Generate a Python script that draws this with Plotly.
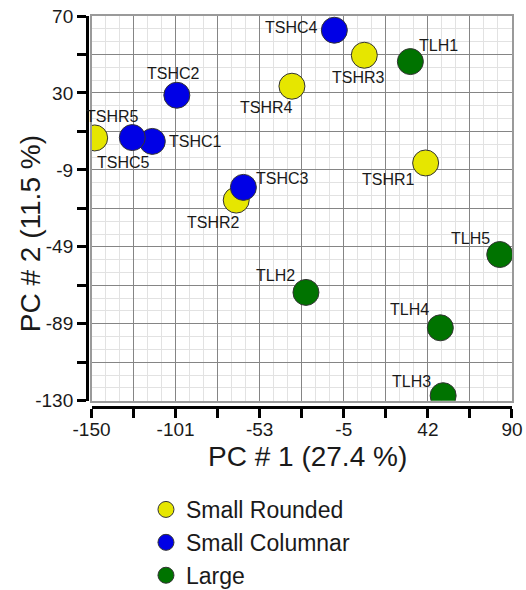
import plotly.graph_objects as go

# ---- data ----
rounded_names = ["TSHR1", "TSHR2", "TSHR3", "TSHR4", "TSHR5"]
rounded_x = [40.7, -67.4, 5.7, -35.6, -148.2]
rounded_y = [-6.4, -25.7, 49.6, 33.5, 6.6]

columnar_names = ["TSHC1", "TSHC2", "TSHC3", "TSHC4", "TSHC5"]
columnar_x = [-115.3, -101.3, -63.3, -11.4, -126.7]
columnar_y = [4.8, 28.8, -19.1, 62.6, 6.8]

large_names = ["TLH1", "TLH2", "TLH3", "TLH4", "TLH5"]
large_x = [32.0, -27.6, 50.7, 49.1, 83.0]
large_y = [46.3, -73.7, -127.4, -92.1, -54.0]

x_tickvals = [-150, -126, -102, -78, -54, -30, -6, 18, 42, 66, 90]
x_ticktext = ["-150", "", "-101", "", "-53", "", "-5", "", "42", "", "90"]
y_tickvals = [70, 50, 30, 10, -10, -30, -50, -70, -90, -110, -130]
y_ticktext = ["70", "", "30", "", "-9", "", "-49", "", "-89", "", "-130"]

# label offsets (pixels) per point
label_shift = {
    "TSHR1": (-37, -17), "TSHR2": (-23, -22), "TSHR3": (-6, -22), "TSHR4": (-25, -21), "TSHR5": (18, 21),
    "TSHC1": (43, 0), "TSHC2": (-3, 22), "TSHC3": (39, 9), "TSHC4": (-43, 3), "TSHC5": (-9, -25),
    "TLH1": (28, 16), "TLH2": (-30, 17), "TLH3": (-32, 14), "TLH4": (-31, 18), "TLH5": (-29, 16),
}

FONT = "Liberation Sans, Arial, sans-serif"
YELLOW = "#e6e600"
BLUE = "#0000e6"
GREEN = "#007300"

fig = go.Figure()
groups = [
    ("Small Rounded", rounded_names, rounded_x, rounded_y, YELLOW),
    ("Small Columnar", columnar_names, columnar_x, columnar_y, BLUE),
    ("Large", large_names, large_x, large_y, GREEN),
]
for i, (name, names, xs, ys, col) in enumerate(groups):
    fig.add_trace(go.Scatter(
        x=xs, y=ys, mode="markers", name=name, legendgroup=name,
        marker=dict(size=26, color=col, line=dict(color="#333333", width=1)),
        hoverinfo="text", text=names,
    ))

# helper trace for the offset axes
fig.add_trace(go.Scatter(x=[], y=[], xaxis="x2", yaxis="y2", showlegend=False, hoverinfo="skip"))

annotations = []
for name, names, xs, ys, col in groups:
    for n, x, y in zip(names, xs, ys):
        dx, dy = label_shift[n]
        annotations.append(dict(
            x=x, y=y, xref="x", yref="y", text=n, showarrow=False,
            xshift=dx, yshift=dy, font=dict(family=FONT, size=16, color="#1a1a1a"),
        ))

annotations.append(dict(
    text="PC # 1 (27.4 %)", xref="paper", yref="paper", x=0.537, y=-0.0758,
    showarrow=False, font=dict(family=FONT, size=28, color="#1a1a1a"),
    xanchor="center", yanchor="middle",
))
annotations.append(dict(
    text="PC # 2 (11.5 %)", xref="paper", yref="paper", x=-0.093, y=0.469,
    showarrow=False, textangle=-90, font=dict(family=FONT, size=28, color="#1a1a1a"),
    xanchor="center", yanchor="middle",
))

grid_major = "#858585"
grid_minor = "#e2e2e2"

fig.update_layout(
    width=526, height=590,
    margin=dict(l=71, r=14, t=16, b=165, autoexpand=False),
    paper_bgcolor="white", plot_bgcolor="white",
    font=dict(family=FONT, color="#1a1a1a"),
    annotations=annotations,
    showlegend=True,
    legend=dict(
        x=0.170, y=-0.154, xanchor="left", yanchor="top",
        font=dict(family=FONT, size=23, color="#1a1a1a"),
        traceorder="normal", itemsizing="trace",
        bgcolor="rgba(0,0,0,0)",
    ),
    xaxis=dict(
        domain=[0.0465, 1], range=[-150, 90], tick0=-150, dtick=24,
        showgrid=True, gridcolor=grid_major, gridwidth=1,
        minor=dict(dtick=8, tick0=-150, showgrid=True, gridcolor=grid_minor, gridwidth=1),
        showticklabels=False, ticks="", zeroline=False,
        showline=True, mirror=True, linecolor="#9a9a9a", linewidth=1.5,
    ),
    yaxis=dict(
        domain=[0.0594, 1], range=[-130, 70], tick0=-130, dtick=20,
        showgrid=True, gridcolor=grid_major, gridwidth=1,
        minor=dict(dtick=20 / 3, tick0=-130, showgrid=True, gridcolor=grid_minor, gridwidth=1),
        showticklabels=False, ticks="", zeroline=False,
        showline=True, mirror=True, linecolor="#9a9a9a", linewidth=1.5,
    ),
    xaxis2=dict(
        overlaying="x", anchor="free", position=0.0428, side="bottom",
        range=[-150, 90], tickmode="array", tickvals=x_tickvals, ticktext=x_ticktext,
        showgrid=False, zeroline=False, automargin=False,
        showline=True, linecolor="black", linewidth=3,
        ticks="outside", ticklen=9, tickwidth=3, tickcolor="black",
        ticklabelstandoff=-5,
        tickfont=dict(family=FONT, size=19, color="#1a1a1a"),
    ),
    yaxis2=dict(
        overlaying="y", anchor="free", position=0.0363, side="left",
        range=[-130, 70], tickmode="array", tickvals=y_tickvals, ticktext=y_ticktext,
        showgrid=False, zeroline=False, automargin=False,
        showline=True, linecolor="black", linewidth=3,
        ticks="outside", ticklen=9, tickwidth=3, tickcolor="black",
        tickfont=dict(family=FONT, size=19, color="#1a1a1a"),
    ),
)

fig.write_html(
    "out.html",
    config={"displayModeBar": False},
    post_script="document.body.style.margin='0';document.body.style.padding='0';",
)
